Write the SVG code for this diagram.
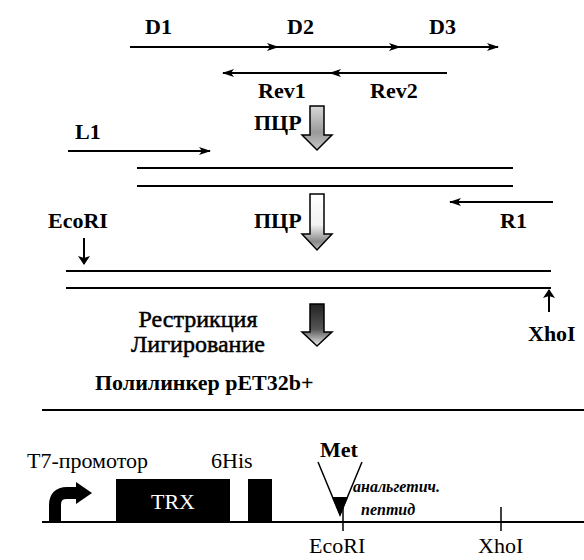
<svg xmlns="http://www.w3.org/2000/svg" width="584" height="560" viewBox="0 0 584 560">
<style>
.b{font-family:"Liberation Serif","DejaVu Serif",serif;font-weight:bold;font-size:22px;fill:#000}
.r{font-family:"Liberation Serif","DejaVu Serif",serif;font-size:22px;fill:#000}
.m{font-family:"Liberation Serif","DejaVu Serif",serif;font-size:24px;fill:#000;stroke:#000;stroke-width:0.5}
.i{font-family:"Liberation Serif","DejaVu Serif",serif;font-style:italic;font-weight:bold;font-size:16px;fill:#000}
.ln{stroke:#000;stroke-width:2;fill:none}
.thin{stroke:#000;stroke-width:1.5;fill:none}
.blk{stroke:#000;stroke-width:1.5}
</style>
<defs>
<marker id="ah" markerWidth="12" markerHeight="8" refX="11" refY="4" orient="auto" markerUnits="userSpaceOnUse">
<path d="M0,0 L12,4 L0,8 L3,4 Z" fill="#000"/>
</marker>
<marker id="sa" markerWidth="9" markerHeight="12" refX="8" refY="6" orient="auto" markerUnits="userSpaceOnUse">
<path d="M0,0 L9,6 L0,12 L2,6 Z" fill="#000"/>
</marker>
<linearGradient id="g1" x1="0" y1="0" x2="0" y2="1">
<stop offset="0" stop-color="#d8d8d8"/><stop offset="0.6" stop-color="#9a9a9a"/><stop offset="1" stop-color="#c8c8c8"/>
</linearGradient>
<linearGradient id="g2" x1="0" y1="0" x2="0" y2="1">
<stop offset="0" stop-color="#fff"/><stop offset="0.55" stop-color="#f2f2f2"/><stop offset="0.85" stop-color="#8a8a8a"/><stop offset="1" stop-color="#bbb"/>
</linearGradient>
<linearGradient id="g3" x1="0" y1="0" x2="0" y2="1">
<stop offset="0" stop-color="#222"/><stop offset="0.6" stop-color="#555"/><stop offset="1" stop-color="#eee"/>
</linearGradient>
</defs>

<g id="connectors">
<line class="ln" x1="130" y1="47" x2="278" y2="47" marker-end="url(#ah)"/>
<line class="ln" x1="276" y1="47" x2="400" y2="47" marker-end="url(#ah)"/>
<line class="ln" x1="398" y1="47" x2="498" y2="47" marker-end="url(#ah)"/>
<line class="ln" x1="447" y1="73" x2="330" y2="73" marker-end="url(#ah)"/>
<line class="ln" x1="332" y1="73" x2="223" y2="73" marker-end="url(#ah)"/>
<line class="ln" x1="68" y1="151" x2="210" y2="151" marker-end="url(#ah)"/>
<line class="ln" x1="553" y1="202" x2="450" y2="202" marker-end="url(#ah)"/>
<line class="ln" x1="84" y1="238" x2="84" y2="264" marker-end="url(#sa)"/>
<line class="ln" x1="549" y1="312" x2="549" y2="290" marker-end="url(#sa)"/>
</g>

<g id="dna1">
<line class="ln" x1="137" y1="168" x2="513" y2="168"/>
<line class="ln" x1="137" y1="186" x2="513" y2="186"/>
</g>
<g id="dna2">
<line class="ln" x1="66" y1="271" x2="551" y2="271"/>
<line class="ln" x1="66" y1="288" x2="551" y2="288"/>
</g>

<g id="labels-top">
<text class="b" x="145" y="34">D1</text>
<text class="b" x="287" y="34">D2</text>
<text class="b" x="429" y="34">D3</text>
<text class="b" x="258" y="98" font-size="23">Rev1</text>
<text class="b" x="370" y="98" font-size="23">Rev2</text>
<text class="b" x="75" y="139">L1</text>
<text class="b" x="500" y="228">R1</text>
<text class="b" x="48" y="228">EcoRI</text>
<text class="b" x="528" y="341">XhoI</text>
</g>

<g id="pcr1">
<text class="b" x="254" y="130">ПЦР</text>
<path class="blk" d="M310,106 L324,106 L324,135 L332,135 L317,150 L302,135 L310,135 Z" fill="url(#g1)"/>
</g>
<g id="pcr2">
<text class="b" x="254" y="228">ПЦР</text>
<path class="blk" d="M310,194 L324,194 L324,234 L332,234 L317,250 L302,234 L310,234 Z" fill="url(#g2)"/>
</g>
<g id="restr">
<text class="m" x="198" y="327" text-anchor="middle">Рестрикция</text>
<text class="m" x="198" y="352" text-anchor="middle">Лигирование</text>
<path class="blk" d="M310,304 L324,304 L324,332 L332,332 L317,346 L302,332 L310,332 Z" fill="url(#g3)"/>
</g>

<g id="polylinker">
<text class="b" x="95" y="390" font-size="21">Полилинкер pET32b+</text>
<line class="ln" x1="42" y1="410" x2="584" y2="410"/>
</g>

<g id="vector">
<line class="ln" x1="42" y1="522" x2="584" y2="522"/>
<text class="r" x="27" y="468" font-size="23">T7-промотор</text>
<path d="M55,522 L55,505 Q55,493 67,493 L77,493" stroke="#000" stroke-width="12" fill="none"/>
<path d="M76,482 L92,493 L76,504 Z" fill="#000"/>
<rect x="116" y="479" width="114" height="43" fill="#000"/>
<text x="173" y="509" text-anchor="middle" font-family="Liberation Serif, serif" font-size="22" fill="#fff">TRX</text>
<text class="r" x="211" y="468">6His</text>
<rect x="248" y="479" width="24" height="43" fill="#000"/>
<line class="thin" x1="343" y1="505" x2="343" y2="531"/>
<line class="thin" x1="501" y1="507" x2="501" y2="531"/>
<text class="b" x="320" y="457">Met</text>
<path class="thin" d="M318,462 L340,515 L362,462"/>
<path d="M332,497 L348,497 L340,516 Z" fill="#000"/>
<text class="i" x="353" y="492">анальгетич.</text>
<text class="i" x="361" y="515">пептид</text>
<text class="r" x="309" y="553" font-size="23">EcoRI</text>
<text class="r" x="478" y="553">XhoI</text>
</g>
</svg>
